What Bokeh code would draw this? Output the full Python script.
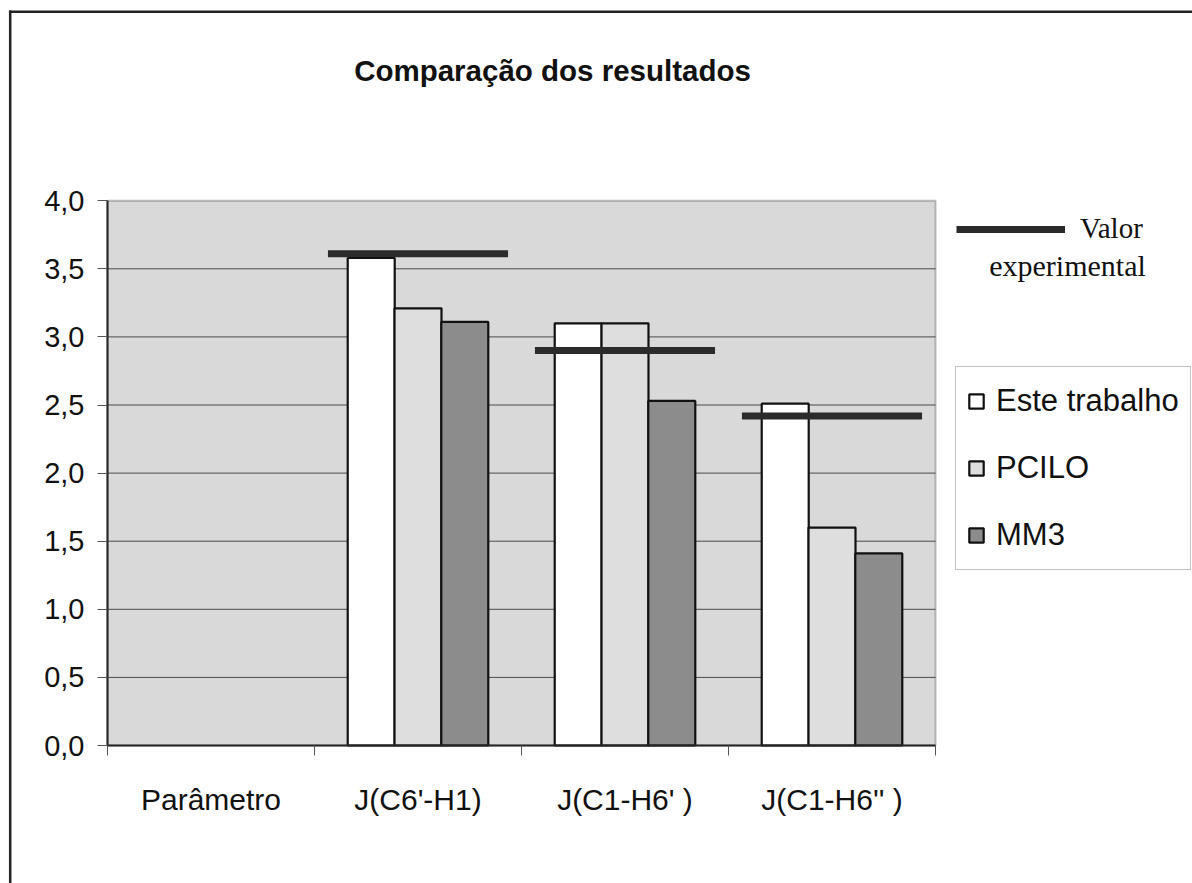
from bokeh.plotting import figure
from bokeh.models import (Range1d, FixedTicker, Legend, LegendItem,
                          Label, BoxAnnotation, ColumnDataSource)
from bokeh.embed import file_html
from bokeh.resources import INLINE

# ---- data ----
categories = ["Parâmetro", "J(C6'-H1)", "J(C1-H6' )", "J(C1-H6'' )"]
series_names = ["Este trabalho", "PCILO", "MM3"]
este = [None, 3.58, 3.10, 2.51]
pcilo = [None, 3.21, 3.10, 1.60]
mm3 = [None, 3.11, 2.53, 1.41]
experimental = [None, 3.61, 2.90, 2.42]
y_ticks = [0.0, 0.5, 1.0, 1.5, 2.0, 2.5, 3.0, 3.5, 4.0]
y_labels = ["0,0", "0,5", "1,0", "1,5", "2,0", "2,5", "3,0", "3,5", "4,0"]

SANS = "'Liberation Sans', Arial, sans-serif"
SERIF = "'Liberation Serif', 'Times New Roman', serif"

# ---- layout (canvas pixels) ----
W, H = 1192, 883
X0_PX, PX_PER_X = 107, 207.0    # plot area left edge, px per category
Y0_PX, PX_PER_Y = 745, 136.2    # plot area bottom edge, px per unit
NCAT = len(categories)
YMAX = y_ticks[-1]

def dx(px):
    return (px - X0_PX) / PX_PER_X

def dy(py):
    return (Y0_PX - py) / PX_PER_Y

p = figure(width=W, height=H, output_backend="svg", toolbar_location=None,
           x_range=Range1d(dx(0), dx(W)), y_range=Range1d(dy(H), dy(0)),
           min_border=0)
p.background_fill_color = "white"
p.border_fill_color = "white"
p.outline_line_color = None
p.xgrid.visible = False
p.ygrid.visible = False

# plot area background
p.add_layout(BoxAnnotation(left=0, right=NCAT, bottom=0, top=YMAX,
                           fill_color="#d9d9d9", fill_alpha=1.0,
                           line_color=None, level="underlay"))

# horizontal grid lines at the y ticks
grid_y = y_ticks[1:-1]
p.segment(x0=[0] * len(grid_y), x1=[NCAT] * len(grid_y), y0=grid_y, y1=grid_y,
          line_color="#4a4a4a", line_width=1)

# axes fixed at the plot-area edges
p.yaxis.fixed_location = 0
p.yaxis.bounds = (0, YMAX)
p.yaxis.ticker = FixedTicker(ticks=y_ticks)
p.yaxis.major_label_overrides = {t: lab for t, lab in zip(y_ticks, y_labels)}
p.yaxis.major_label_text_font = SANS
p.yaxis.major_label_text_font_size = "29px"
p.yaxis.major_label_text_color = "#111111"
p.yaxis.major_tick_out = 10
p.yaxis.major_tick_in = 0
p.yaxis.minor_tick_line_color = None
p.yaxis.major_label_standoff = 13
p.yaxis.axis_line_color = "#222222"
p.yaxis.axis_line_width = 2
p.yaxis.major_tick_line_color = "#555555"

centers = [i + 0.5 for i in range(NCAT)]
p.xaxis.fixed_location = 0
p.xaxis.bounds = (0, NCAT)
p.xaxis.ticker = FixedTicker(ticks=centers, minor_ticks=list(range(NCAT + 1)))
p.xaxis.major_label_overrides = {c: lab for c, lab in zip(centers, categories)}
p.xaxis.major_tick_out = 0
p.xaxis.major_tick_in = 0
p.xaxis.minor_tick_out = 10
p.xaxis.minor_tick_in = 0
p.xaxis.minor_tick_line_color = "#555555"
p.xaxis.major_label_standoff = 27
p.xaxis.major_label_text_font = SANS
p.xaxis.major_label_text_font_size = "30px"
p.xaxis.major_label_text_color = "#111111"
p.xaxis.axis_line_color = "#222222"
p.xaxis.axis_line_width = 2

# bars
bar_w = 0.227
offsets = [-0.226, 0.0, 0.226]
fills = ["#ffffff", "#dedede", "#8c8c8c"]
bar_renderers = []
for vals, off, col in zip([este, pcilo, mm3], offsets, fills):
    xs = [c + off for c, v in zip(centers, vals) if v is not None]
    ys = [v for v in vals if v is not None]
    src = ColumnDataSource(dict(x=xs, top=ys))
    r = p.vbar(x="x", top="top", bottom=0, width=bar_w, source=src,
               fill_color=col, line_color="#111111", line_width=2.2)
    bar_renderers.append(r)

# plot area border (top / right)
p.add_layout(BoxAnnotation(left=0, right=NCAT, bottom=0, top=YMAX,
                           fill_alpha=0, line_color="#333333", line_width=2))

# experimental value lines
half = 0.435
ex_src = ColumnDataSource(dict(
    x0=[c - half for c, v in zip(centers, experimental) if v is not None],
    x1=[c + half for c, v in zip(centers, experimental) if v is not None],
    y=[v for v in experimental if v is not None]))
exp_r = p.segment(x0="x0", y0="y", x1="x1", y1="y", source=ex_src,
                  line_color="#2b2b2b", line_width=7)

# legend for bars
leg = Legend(items=[LegendItem(label=n, renderers=[r]) for n, r in zip(series_names, bar_renderers)],
             location=(955, H - 570), orientation="vertical",
             label_text_font=SANS, label_text_font_size="31px", label_text_color="#111111",
             glyph_width=18, glyph_height=18, label_height=46, spacing=21,
             padding=11, label_standoff=11, margin=0,
             border_line_color="#888888", border_line_width=1,
             background_fill_color="white", background_fill_alpha=1.0)
p.add_layout(leg)

# legend for experimental value
leg2 = Legend(items=[LegendItem(label="Valor", renderers=[exp_r])],
              location=(956, H - 230 - 15), margin=0, padding=0,
              label_text_font=SERIF, label_text_font_size="29px", label_text_color="#111111",
              glyph_width=109, glyph_height=30, label_height=30, label_standoff=15,
              border_line_color=None, background_fill_alpha=0)
p.add_layout(leg2)

p.add_layout(Label(x=dx(1067), y=dy(265), text="experimental", text_align="center",
                   text_baseline="middle", text_font=SERIF, text_font_size="30px",
                   text_color="#111111"))

# title
p.add_layout(Label(x=dx(552), y=dy(70), text="Comparação dos resultados", text_align="center",
                   text_baseline="middle", text_font=SANS, text_font_size="29.5px",
                   text_font_style="bold", text_color="#111111"))

# outer frame of the chart (left and top edges, meeting at the corner)
fx, fy = dx(9.7), dy(11.2)
p.segment(x0=[fx, fx], y0=[fy, fy], x1=[dx(W + 20), fx], y1=[fy, dy(H + 20)],
          line_color="#222222", line_width=2.5, line_cap="square")

open("out.html", "w").write(file_html(p, INLINE))
